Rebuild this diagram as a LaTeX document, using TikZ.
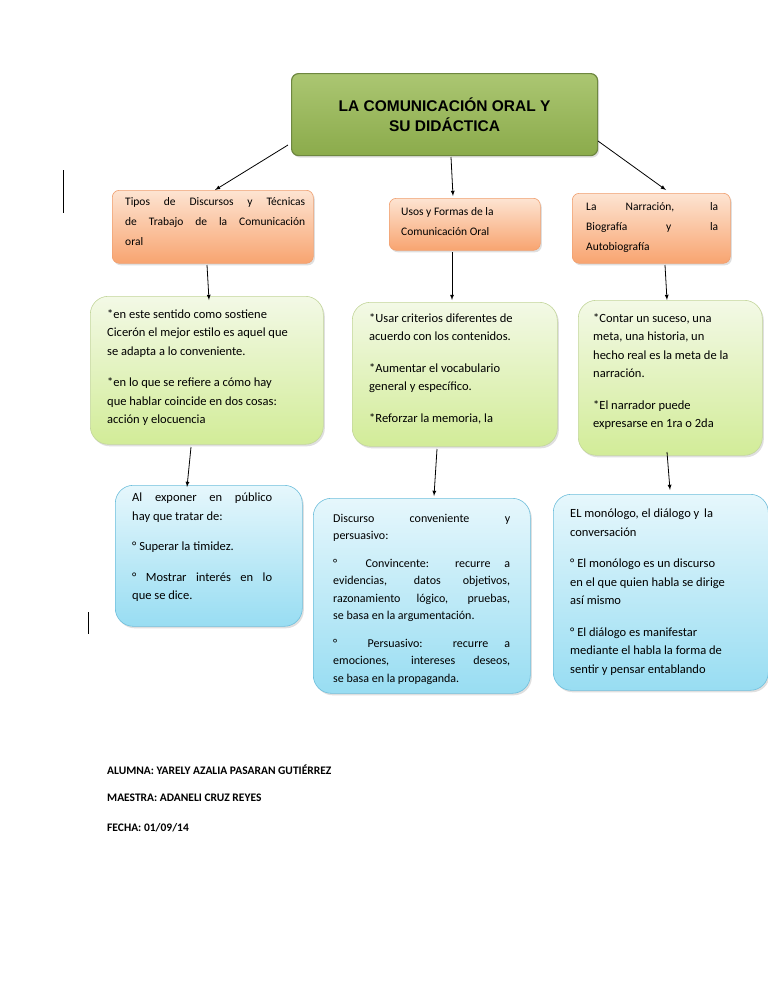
\documentclass[tikz,border=0pt]{standalone}
\usepackage{fontspec}
\setmainfont{Carlito}
\newfontfamily\titlefont{Liberation Sans}
\usetikzlibrary{shadows}
\definecolor{orT}{HTML}{FDE4D2}\definecolor{orB}{HTML}{F8A470}\definecolor{orD}{HTML}{F0A070}
\definecolor{grT}{HTML}{F3F9E6}\definecolor{grB}{HTML}{D2EC98}\definecolor{grD}{HTML}{C3D69B}
\definecolor{blT}{HTML}{E6F7FC}\definecolor{blB}{HTML}{98DDF2}\definecolor{blD}{HTML}{6FBFDC}
\definecolor{tiT}{HTML}{ABC672}\definecolor{tiB}{HTML}{8BAB4B}\definecolor{tiD}{HTML}{6E8740}
\tikzset{
 base/.style={anchor=north west,inner sep=0pt,drop shadow={shadow xshift=1.5pt,shadow yshift=-2pt,opacity=0.25}},
 obox/.style={base,rounded corners=7pt,top color=orT,bottom color=orB,draw=orD,line width=0.6pt},
 gbox/.style={base,rounded corners=18pt,top color=grT,bottom color=grB,draw=grD,line width=0.6pt},
 bbox/.style={base,rounded corners=18pt,top color=blT,bottom color=blB,draw=blD,line width=0.6pt},
 tbox/.style={base,rounded corners=7pt,top color=tiT,bottom color=tiB,draw=tiD,line width=1.2pt},
 txt/.style={anchor=north west,inner sep=0pt,font=\fontsize{12.5}{18.5}\selectfont},
 arr/.style={-latex,line width=0.8pt},
}
\newcommand{\bx}[6]{\node[#6,minimum width=#4pt-#2pt,minimum height=#5pt-#3pt] (#1) at (#2,#3) {};}
\begin{document}
\begin{tikzpicture}[x=1pt,y=-1pt]
\useasboundingbox[fill=white] (0,0) rectangle (768,994);
% boxes
\bx{t}{291}{73}{597}{155}{tbox}
\bx{o1}{112}{190}{313}{263}{obox}
\bx{o2}{389}{198}{540}{250}{obox}
\bx{o3}{572}{193}{730}{263}{obox}
\bx{g1}{90}{296}{323}{444}{gbox}
\bx{g2}{352}{302}{557}{446}{gbox}
\bx{g3}{578}{300}{762}{455}{gbox}
\bx{b1}{115}{485}{302}{626}{bbox}
\bx{b2}{313}{498}{530}{693}{bbox}
\bx{b3}{553}{494}{768}{690}{bbox}
% title
\node[align=center,font=\titlefont\bfseries\fontsize{15.5}{20}\selectfont] (tt) at (t.center) {LA COMUNICACIÓN ORAL Y\\SU DIDÁCTICA};
% orange texts
\begin{scope}\clip (o1.north west) rectangle (o1.south east);
\node[txt,text width=180pt,align=justify,font=\fontsize{11.5}{20}\selectfont] (to1) at (125,197) {Tipos de Discursos y Técnicas\linebreak de Trabajo de la Comunicación\linebreak oral};
\end{scope}
\node[txt,align=left,font=\fontsize{11.5}{20}\selectfont] (to2) at (401,207) {Usos y Formas de la\\Comunicación Oral};
\begin{scope}\clip (o3.north west) rectangle (o3.south east);
\node[txt,text width=132pt,align=justify,font=\fontsize{11.5}{20}\selectfont] (to3) at (586,202) {La Narración, la\linebreak Biografía y la\linebreak Autobiografía};
\end{scope}
% green texts
\begin{scope}\clip (g1.north west) rectangle (g1.south east);
\node[txt,align=left] (tg1) at (107,309) {*en este sentido como sostiene\\Cicerón el mejor estilo es aquel que\\se adapta a lo conveniente.\\[13pt]*en lo que se refiere a cómo hay\\que hablar coincide en dos cosas:\\acción y elocuencia};
\end{scope}
\begin{scope}\clip (g2.north west) rectangle (g2.south east);
\node[txt,align=left] (tg2) at (369,313) {*Usar criterios diferentes de\\acuerdo con los contenidos.\\[13pt]*Aumentar el vocabulario\\general y específico.\\[13pt]*Reforzar la memoria, la};
\end{scope}
\begin{scope}\clip (g3.north west) rectangle (g3.south east);
\node[txt,align=left] (tg3) at (593,313) {*Contar un suceso, una\\meta, una historia, un\\hecho real es la meta de la\\narración.\\[13pt]*El narrador puede\\expresarse en 1ra o 2da};
\end{scope}
% blue texts
\begin{scope}\clip (b1.north west) rectangle (b1.south east);
\node[txt,text width=140pt,align=justify] (tb1) at (132,493) {Al exponer en público\linebreak hay que tratar de:\par\vspace{12pt}\noindent° Superar la timidez.\par\vspace{12pt}\noindent° Mostrar interés en lo\linebreak que se dice.};
\end{scope}
\begin{scope}\clip (b2.north west) rectangle (b2.south east);
\node[txt,text width=177pt,align=justify,font=\fontsize{12}{17.5}\selectfont] (tb2) at (333,514) {Discurso conveniente y\linebreak persuasivo:\par\vspace{10pt}°\hspace{1.2em} Convincente: recurre a\linebreak evidencias, datos objetivos,\linebreak razonamiento lógico, pruebas,\linebreak se basa en la argumentación.\par\vspace{10pt}°\hspace{1.2em} Persuasivo: recurre a\linebreak emociones, intereses deseos,\linebreak se basa en la propaganda.};
\end{scope}
\begin{scope}\clip (b3.north west) rectangle (b3.south east);
\node[txt,align=left] (tb3) at (570,509) {EL monólogo, el diálogo y\, la\\conversación\\[13pt]° El monólogo es un discurso\\en el que quien habla se dirige\\así mismo\\[13pt]° El diálogo es manifestar\\mediante el habla la forma de\\sentir y pensar entablando};
\end{scope}
% arrows
\draw[arr] (t.west|-0,145) ++(-3,0) -- (215,190);
\draw[arr] (451,157) -- (453,196);
\draw[arr] (598,141) -- (666,190);
\draw[arr] (207,265) -- (209,300);
\draw[arr] (452,252) -- (452,300);
\draw[arr] (665,265) -- (667,300);
\draw[arr] (191,447) -- (187,487);
\draw[arr] (437,449) -- (434,496);
\draw[arr] (667,452) -- (670,490);
% stray marks
\draw[line width=1pt] (63,170) -- (63,213);
\draw[line width=1pt] (88,612) -- (88,634);
% footer
\node[txt,font=\bfseries\fontsize{11.5}{14}\selectfont] (f1) at (107,765) {ALUMNA: YARELY AZALIA PASARAN GUTIÉRREZ};
\node[txt,font=\bfseries\fontsize{11.5}{14}\selectfont] (f2) at (107,794) {MAESTRA: ADANELI CRUZ REYES};
\node[txt,font=\bfseries\fontsize{11.5}{14}\selectfont] (f3) at (107,823) {FECHA: 01/09/14};
\end{tikzpicture}
\end{document}
